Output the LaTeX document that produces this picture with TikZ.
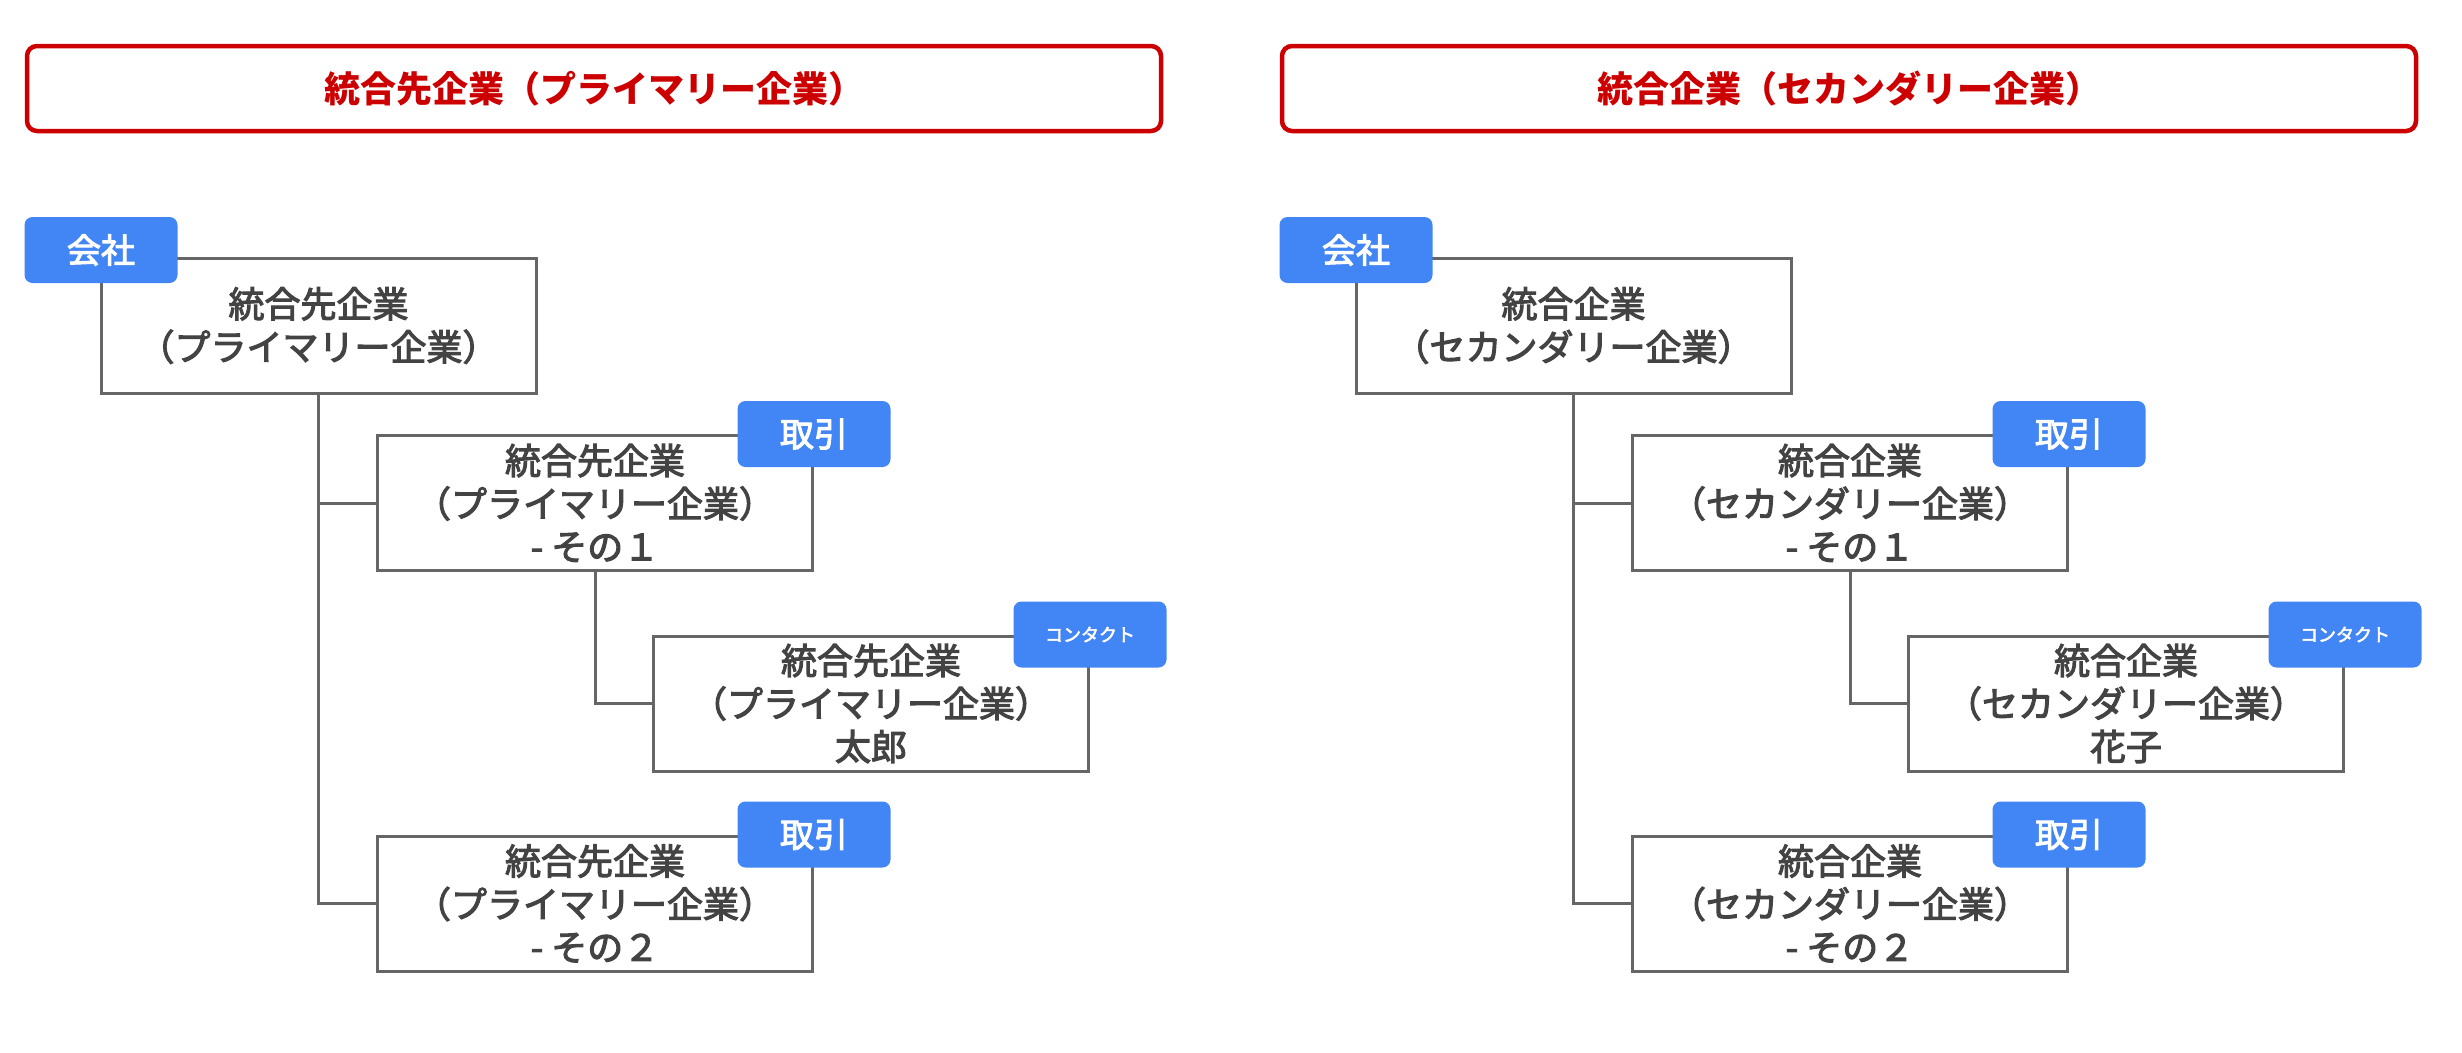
\documentclass[tikz,border=0pt]{standalone}
\usepackage{fontspec}
\setmainfont{Noto Sans CJK JP}
\newfontfamily\medfont{Noto Sans CJK JP}[FakeBold=3]
\usepackage{tikz}
\usetikzlibrary{calc}

\definecolor{tagblue}{HTML}{4285F4}
\definecolor{titlered}{HTML}{CC0000}
\definecolor{linegray}{HTML}{666666}
\definecolor{textgray}{HTML}{434343}

\begin{document}
\begin{tikzpicture}[x=1pt,y=-1pt,
    titlebox/.style={draw=titlered,line width=4.5pt,rounded corners=10pt,minimum width=1134pt,minimum height=85pt,text=titlered,font=\bfseries\fontsize{36}{43}\selectfont},
    entbox/.style={draw=linegray,line width=3pt,minimum width=435pt,minimum height=135pt,text=textgray,align=center,font=\medfont\fontsize{36}{43}\selectfont},
    labeltag/.style={fill=tagblue,rounded corners=8pt,minimum width=153pt,minimum height=66pt,text=white,font=\medfont\fontsize{34}{40}\selectfont},
    smalltag/.style={labeltag,font=\medfont\fontsize{18}{22}\selectfont},
    conn/.style={draw=linegray,line width=3pt}]
    \useasboundingbox (0,0) rectangle (2462,1052);
    % 左：プライマリー
    \node[titlebox] (ptitle) at (594,88.5) {統合先企業（プライマリー企業）};
    \node[entbox] (proot) at (318.5,325.5) {統合先企業\\（プライマリー企業）};
    \node[entbox] (pdeal1) at (595,503) {統合先企業\\（プライマリー企業）\\- その１};
    \node[entbox] (pcontact) at (871,703.5) {統合先企業\\（プライマリー企業）\\太郎};
    \node[entbox] (pdeal2) at (595,903.5) {統合先企業\\（プライマリー企業）\\- その２};
    \draw[conn] (proot.south) |- (pdeal1.west);
    \draw[conn] (proot.south) |- (pdeal2.west);
    \draw[conn] (pdeal1.south) |- (pcontact.west);
    \node[labeltag] (pcompany) at ($(proot.north west)+(1.5,-6.5)$) {会社};
    \node[labeltag] (ptag1) at (pdeal1.north east) {取引};
    \node[smalltag] (ptagc) at (pcontact.north east) {コンタクト};
    \node[labeltag] (ptag2) at (pdeal2.north east) {取引};
    % 右：セカンダリー
    \begin{scope}[xshift=1255pt]
    \node[titlebox] (stitle) at (594,88.5) {統合企業（セカンダリー企業）};
    \node[entbox] (sroot) at (318.5,325.5) {統合企業\\（セカンダリー企業）};
    \node[entbox] (sdeal1) at (595,503) {統合企業\\（セカンダリー企業）\\- その１};
    \node[entbox] (scontact) at (871,703.5) {統合企業\\（セカンダリー企業）\\花子};
    \node[entbox] (sdeal2) at (595,903.5) {統合企業\\（セカンダリー企業）\\- その２};
    \draw[conn] (sroot.south) |- (sdeal1.west);
    \draw[conn] (sroot.south) |- (sdeal2.west);
    \draw[conn] (sdeal1.south) |- (scontact.west);
    \node[labeltag] (scompany) at ($(sroot.north west)+(1.5,-6.5)$) {会社};
    \node[labeltag] (stag1) at (sdeal1.north east) {取引};
    \node[smalltag] (stagc) at (scontact.north east) {コンタクト};
    \node[labeltag] (stag2) at (sdeal2.north east) {取引};
    \end{scope}
\end{tikzpicture}
\end{document}
